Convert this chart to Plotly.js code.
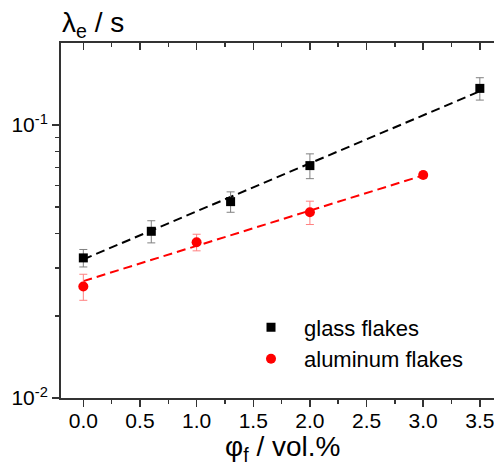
<!DOCTYPE html>
<html>
<head>
<meta charset="utf-8">
<script src="https://cdn.plot.ly/plotly-3.0.1.min.js"></script>
<style>html,body{margin:0;padding:0;background:#fff;}#chart{width:494px;height:469px;}</style>
</head>
<body>
<div id="chart"></div>
<script>
// Data
const glassX = [0.0, 0.6, 1.3, 2.0, 3.5];
const glassY = [0.0326, 0.0408, 0.0524, 0.0710, 0.1362];
const glassErr = [0.0024, 0.0038, 0.0045, 0.0074, 0.0128];

const aluX = [0.0, 1.0, 2.0, 3.0];
const aluY = [0.0256, 0.0372, 0.0479, 0.0656];
const aluErr = [0.0028, 0.0026, 0.0047, 0.0017];

// Dashed fit lines (endpoints)
const glassFitX = [0.0, 3.5];
const glassFitY = [0.0322, 0.1329];
const aluFitX = [0.0, 3.0];
const aluFitY = [0.0268, 0.0654];

const xTickVals = [0, 0.5, 1, 1.5, 2, 2.5, 3, 3.5];
const xTickText = ['0.0', '0.5', '1.0', '1.5', '2.0', '2.5', '3.0', '3.5'];
const yTickVals = [0.01, 0.1];
const yTickText = ['10<sup>-2</sup>', '10<sup>-1</sup>'];
const yMinorVals = [0.02, 0.03, 0.04, 0.05, 0.06, 0.07, 0.08, 0.09];

const FONT = 'Arial, "Liberation Sans", sans-serif';
const AX = '#333333';

const traces = [
  {x: glassFitX, y: glassFitY, mode: 'lines', line: {color: '#000', width: 2, dash: '9px,5px'}, showlegend: false, hoverinfo: 'skip'},
  {x: aluFitX, y: aluFitY, mode: 'lines', line: {color: '#ff0000', width: 2, dash: '9px,5px'}, showlegend: false, hoverinfo: 'skip'},
  {x: glassX, y: glassY, mode: 'markers', name: 'glass flakes',
   marker: {symbol: 'square', size: 9, color: '#000'},
   error_y: {type: 'data', array: glassErr, color: '#808080', thickness: 1, width: 4}},
  {x: aluX, y: aluY, mode: 'markers', name: 'aluminum flakes',
   marker: {symbol: 'circle', size: 10, color: '#ff0000'},
   error_y: {type: 'data', array: aluErr, color: '#ff8080', thickness: 1, width: 4}},
  {x: [null], y: [null], xaxis: 'x2', yaxis: 'y', mode: 'markers', showlegend: false, hoverinfo: 'skip'}
];

const xr = [-0.197, 3.625];
const layout = {
  width: 494, height: 469,
  margin: {l: 61, r: 0, t: 43, b: 71},
  paper_bgcolor: '#fff', plot_bgcolor: '#fff',
  font: {family: FONT, color: '#000', size: 21},
  xaxis: {
    range: xr, tickmode: 'array', tickvals: xTickVals, ticktext: xTickText,
    ticks: 'outside', ticklen: 7, tickwidth: 1.5, tickcolor: AX,
    showline: true, linecolor: AX, linewidth: 2, mirror: false,
    showgrid: false, zeroline: false, ticklabeloverflow: 'allow', ticklabelstandoff: -4,
    tickfont: {size: 21, family: FONT, color: '#000'},
    minor: {dtick: 0.25, tick0: 0, ticks: 'outside', ticklen: 4, tickwidth: 1.5, tickcolor: AX, showgrid: false}
  },
  xaxis2: {
    range: xr, overlaying: 'x', side: 'top', anchor: 'y',
    tickmode: 'array', tickvals: xTickVals, showticklabels: false,
    ticks: 'inside', ticklen: 7, tickwidth: 1.5, tickcolor: AX,
    showline: true, linecolor: AX, linewidth: 2,
    showgrid: false, zeroline: false,
    minor: {dtick: 0.25, tick0: 0, ticks: 'inside', ticklen: 4, tickwidth: 1.5, tickcolor: AX, showgrid: false}
  },
  yaxis: {
    type: 'log', range: [-2, -0.6996],
    tickmode: 'array', tickvals: yTickVals, ticktext: yTickText,
    ticks: 'outside', ticklen: 7, tickwidth: 1.5, tickcolor: AX,
    showline: true, linecolor: AX, linewidth: 2, mirror: false,
    showgrid: false, zeroline: false,
    tickfont: {size: 21, family: FONT, color: '#000'},
    minor: {tickmode: 'array', tickvals: yMinorVals, ticks: 'outside', ticklen: 4, tickwidth: 1.5, tickcolor: AX, showgrid: false}
  },
  showlegend: true,
  legend: {
    x: 0.4088, y: 0.258, xanchor: 'left', yanchor: 'top',
    bgcolor: 'rgba(0,0,0,0)', borderwidth: 0,
    font: {size: 22, family: FONT, color: '#000'},
    itemwidth: 56
  },
  annotations: [
    {text: '\u03bb<sub>e</sub> / s', xref: 'paper', yref: 'paper', x: -0.002, y: 0.996,
     xanchor: 'left', yanchor: 'bottom', showarrow: false, font: {size: 28, family: FONT, color: '#000'}},
    {text: '\u03c6<sub>f</sub> / vol.%', xref: 'paper', yref: 'paper', x: 0.512, y: -0.141,
     xanchor: 'center', yanchor: 'middle', showarrow: false, font: {size: 28, family: FONT, color: '#000'}}
  ]
};

Plotly.newPlot('chart', traces, layout, {displayModeBar: false, staticPlot: true});
</script>
</body>
</html>
